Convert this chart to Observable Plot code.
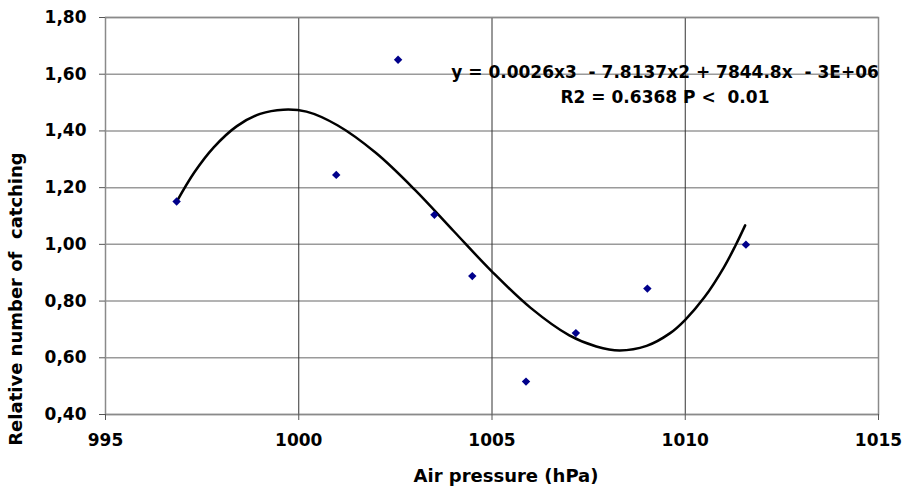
<!DOCTYPE html>
<html>
<head>
<meta charset="utf-8">
<script src="https://cdn.jsdelivr.net/npm/d3@7"></script>
<script src="https://cdn.jsdelivr.net/npm/@observablehq/plot@0.6"></script>
<style>
  html, body { margin: 0; padding: 0; background: #fff; }
  svg text { white-space: pre; }
</style>
</head>
<body>
<div id="chart"></div>
<script>
// Observed points
const pressure = [996.84, 1000.97, 1002.57, 1003.51, 1004.49, 1005.88, 1007.17, 1009.02, 1011.57];
const catching = [1.151, 1.245, 1.651, 1.104, 0.888, 0.516, 0.687, 0.844, 0.999];

// Trend line (polynomial, order 3)
const trendX = [996.84, 997.3, 997.8, 998.4, 999, 999.6, 1000.2, 1001, 1002, 1003, 1004, 1005, 1006, 1007, 1007.7, 1008.3, 1009, 1009.6, 1010, 1010.5, 1011, 1011.3, 1011.55];
const trendY = [1.150, 1.254, 1.342, 1.417, 1.460, 1.475, 1.468, 1.420, 1.322, 1.193, 1.048, 0.904, 0.776, 0.679, 0.640, 0.626, 0.642, 0.686, 0.734, 0.814, 0.919, 0.996, 1.067];

// Axes
const xTicks = [995, 1000, 1005, 1010, 1015];
const yTicks = [0.40, 0.60, 0.80, 1.00, 1.20, 1.40, 1.60, 1.80];
const xLabel = "Air pressure (hPa)";
const yLabel = "Relative number of  catching";
const equation = "y = 0.0026x3  - 7.8137x2 + 7844.8x  - 3E+06\nR2 = 0.6368 P <  0.01";

const points = pressure.map((p, i) => ({p, c: catching[i]}));
const trend = trendX.map((p, i) => ({p, c: trendY[i]}));

const chart = Plot.plot({
  width: 906,
  height: 494,
  marginLeft: 105,
  marginRight: 28,
  marginTop: 17,
  marginBottom: 80,
  style: {fontFamily: "'DejaVu Sans', sans-serif", fontWeight: "bold", fontSize: "17px", background: "#fff", color: "#000"},
  x: {domain: [995, 1015]},
  y: {domain: [0.4, 1.8]},
  marks: [
    Plot.gridY(yTicks, {stroke: "#9a9a9a", strokeOpacity: 1, strokeWidth: 1.5}),
    Plot.gridX(xTicks, {stroke: "#333", strokeOpacity: 1, strokeWidth: 1}),
    Plot.frame({stroke: "#8a8a8a", strokeWidth: 1.5}),
    Plot.axisY({ticks: yTicks, tickFormat: d => d.toFixed(2).replace(".", ","), tickSize: 6, tickPadding: 13, label: null, stroke: "#555"}),
    Plot.axisX({ticks: xTicks, tickFormat: d => String(d), tickSize: 6, tickPadding: 13, label: null, stroke: "#555"}),
    Plot.line(trend, {x: "p", y: "c", curve: "catmull-rom", stroke: "#000", strokeWidth: 2.5}),
    Plot.dot(points, {x: "p", y: "c", symbol: "diamond2", r: 3.8, fill: "#00008b", stroke: "none"}),
    Plot.text([equation], {frameAnchor: "top", dx: 173, dy: 43, lineAnchor: "top", lineHeight: 1.47, textAnchor: "middle", fontSize: 17, fontWeight: "bold", fill: "#000"}),
    Plot.text([xLabel], {frameAnchor: "bottom", dx: 14, dy: 67, textAnchor: "middle", fontSize: 18, fontWeight: "bold", fill: "#000"}),
    Plot.text([yLabel], {frameAnchor: "left", dx: -89, dy: 83, rotate: -90, textAnchor: "middle", fontSize: 18, fontWeight: "bold", fill: "#000"})
  ]
});
document.getElementById("chart").appendChild(chart);
</script>
</body>
</html>
